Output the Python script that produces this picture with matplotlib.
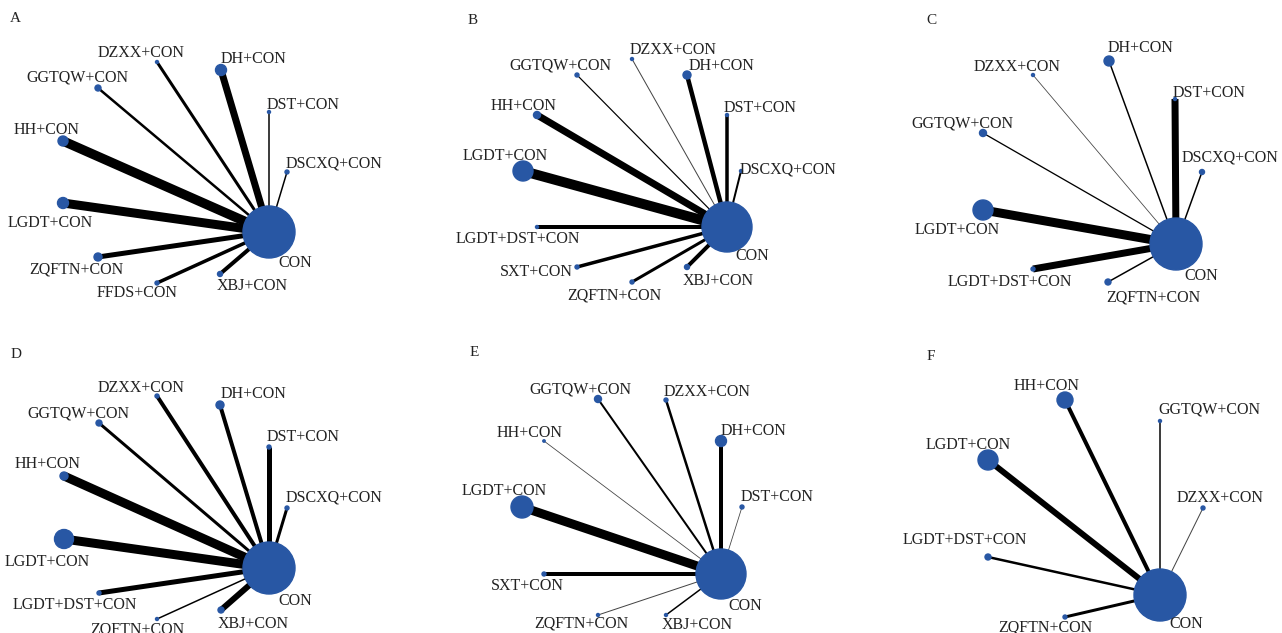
import matplotlib
matplotlib.use("Agg")
import matplotlib.pyplot as plt
from matplotlib.patches import Circle

# network layouts (pixel coords, y down)
# panel A
names_A = ["DZXX", "DH", "GGTQW", "DST", "DSCXQ", "HH", "LGDT", "ZQFTN", "FFDS", "XBJ"]
x_A = [157, 221, 98, 269, 287, 63, 63, 98, 157, 220]
y_A = [62, 70, 88, 112, 172, 141, 203, 257, 283, 274]
node_A = [1.5, 5.5, 3, 1.5, 2, 5, 5.5, 4, 2, 2.5]
edge_A = [3, 7, 2.5, 1.5, 1.5, 9.5, 9, 5, 3.5, 4]
con_A = (269, 232, 26)

# panel B
names_B = ["GGTQW", "DZXX", "DH", "HH", "DST", "LGDT", "DSCXQ", "LGDT+DST", "SXT", "ZQFTN", "XBJ"]
x_B = [577, 632, 687, 537, 727, 523, 741, 537, 577, 632, 687]
y_B = [75, 59, 75, 115, 115, 171, 171, 227, 267, 282, 267]
node_B = [2, 1.5, 4, 3.5, 1.5, 10, 1.5, 1.5, 2, 2, 2.5]
edge_B = [1.2, 1, 4.5, 7, 3.5, 10, 2, 4, 3.5, 3, 4]
con_B = (727, 227, 25)

# panel C
names_C = ["DH", "DZXX", "DST", "GGTQW", "DSCXQ", "LGDT", "LGDT+DST", "ZQFTN"]
x_C = [1109, 1033, 1175, 983, 1202, 983, 1033, 1108]
y_C = [61, 75, 99, 133, 172, 210, 269, 282]
node_C = [5, 1.5, 1.5, 3.5, 2.5, 10, 2, 3]
edge_C = [1.5, 0.8, 7, 1.3, 1.5, 9, 7, 1.5]
con_C = (1176, 244, 26)

# panel D
names_D = ["DZXX", "DH", "GGTQW", "DST", "DSCXQ", "HH", "LGDT", "LGDT+DST", "ZQFTN", "XBJ"]
x_D = [157, 220, 99, 269, 287, 64, 64, 99, 157, 221]
y_D = [396, 405, 423, 447, 508, 476, 539, 593, 619, 610]
node_D = [2, 4, 3, 2, 2, 4, 9.5, 2, 1.5, 3]
edge_D = [4, 4, 3, 5, 3, 9, 9, 5, 1.5, 6]
con_D = (269, 568, 26)

# panel E
names_E = ["GGTQW", "DZXX", "HH", "DH", "LGDT", "DST", "SXT", "ZQFTN", "XBJ"]
x_E = [598, 666, 544, 721, 522, 742, 544, 598, 666]
y_E = [399, 400, 441, 441, 507, 507, 574, 615, 615]
node_E = [3.5, 2, 1.2, 5.5, 11, 2, 2, 1.5, 1.5]
edge_E = [2, 2.5, 0.8, 4, 9, 0.8, 4, 1, 1.5]
con_E = (721, 574, 25)

# panel F
names_F = ["HH", "GGTQW", "LGDT", "DZXX", "LGDT+DST", "ZQFTN"]
x_F = [1065, 1160, 988, 1203, 988, 1065]
y_F = [400, 421, 460, 508, 557, 617]
node_F = [8, 1.5, 10, 2, 3, 2]
edge_F = [4, 1.5, 6, 1, 2.5, 3]
con_F = (1160, 595, 26)

# label centres
lab_A = [(141, 52), (254, 58), (77, 77), (303, 104), (334, 162), (47, 129), (50, 222), (76, 269), (137, 292), (252, 285)]
lab_B = [(560, 64), (673, 49), (722, 65), (524, 105), (760, 107), (505, 155), (788, 169), (518, 238), (536, 271), (614, 294), (718, 280)]
lab_C = [(1141, 47), (1017, 66), (1209, 92), (962, 122), (1230, 156), (957, 229), (1010, 281), (1153, 296)]
lab_D = [(141, 387), (254, 393), (78, 412), (303, 436), (334, 497), (48, 463), (47, 561), (75, 604), (137, 629), (253, 623)]
lab_E = [(580, 388), (707, 391), (530, 432), (754, 430), (504, 490), (777, 496), (527, 585), (581, 623), (697, 624)]
lab_F = [(1047, 385), (1209, 408), (968, 444), (1220, 497), (965, 539), (1045, 626)]
con_lab = [(295, 262), (752, 255), (1201, 275), (295, 600), (745, 605), (1186, 623)]
letters = ["A", "B", "C", "D", "E", "F"]
letter_pos = [(15, 18), (473, 19), (931, 19), (16, 353), (474, 352), (931, 355)]

panels = [
    (names_A, x_A, y_A, node_A, edge_A, con_A, lab_A),
    (names_B, x_B, y_B, node_B, edge_B, con_B, lab_B),
    (names_C, x_C, y_C, node_C, edge_C, con_C, lab_C),
    (names_D, x_D, y_D, node_D, edge_D, con_D, lab_D),
    (names_E, x_E, y_E, node_E, edge_E, con_E, lab_E),
    (names_F, x_F, y_F, node_F, edge_F, con_F, lab_F),
]

BLUE = "#2857a4"
FONT = "Liberation Serif"
PX = 0.72  # points per pixel at dpi 100
DY = 1  # small nudge so caps sit on the read centre

fig = plt.figure(figsize=(12.82, 6.33), dpi=100)
ax = fig.add_axes([0, 0, 1, 1])
ax.set_xlim(0, 1282)
ax.set_ylim(633, 0)
ax.axis("off")

for i, (names, xs, ys, sizes, widths, con, labs) in enumerate(panels):
    cx, cy, cr = con
    for j in range(len(names)):
        # only the hairline links look grey in the original
        col = "#444444" if widths[j] <= 1 else "black"
        ax.plot([xs[j], cx], [ys[j], cy], color=col, lw=widths[j] * PX,
                solid_capstyle="butt", zorder=1)
        ax.add_patch(Circle((xs[j], ys[j]), sizes[j], color=BLUE, zorder=2))
        ax.text(labs[j][0], labs[j][1] + DY, names[j] + "+CON", fontsize=11.5, family=FONT,
                color="#222222", ha="center", va="center", zorder=3)
    ax.add_patch(Circle((cx, cy), cr, color=BLUE, zorder=2))
    ax.text(con_lab[i][0], con_lab[i][1] + DY, "CON", fontsize=11.5, family=FONT,
            color="#222222", ha="center", va="center", zorder=3)
    ax.text(letter_pos[i][0], letter_pos[i][1] + DY, letters[i], fontsize=11, family=FONT,
            color="#222222", ha="center", va="center")

fig.savefig("out.png", dpi=100)
